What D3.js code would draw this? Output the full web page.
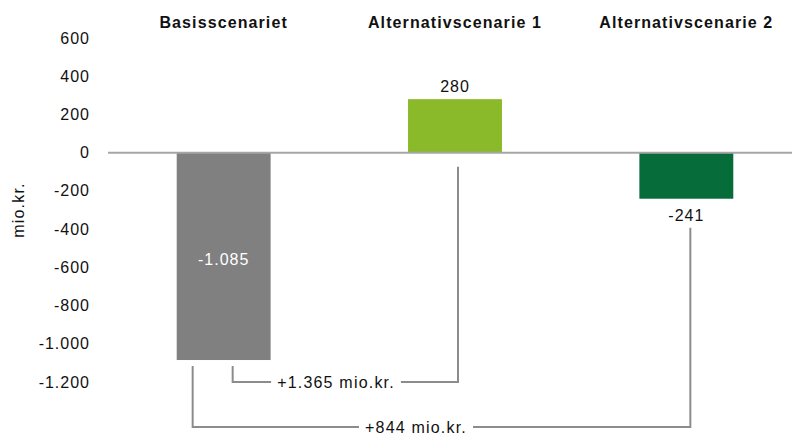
<!DOCTYPE html>
<html>
<head>
<meta charset="utf-8">
<script src="https://cdn.jsdelivr.net/npm/d3@7"></script>
<style>
  body { margin: 0; background: #fff; }
  svg text { font-family: "Liberation Sans", Arial, sans-serif; fill: #111; }
</style>
</head>
<body>
<svg></svg>
<script>
const scenarios = ["Basisscenariet", "Alternativscenarie 1", "Alternativscenarie 2"];
const values = [-1085, 280, -241];
const valueLabels = ["-1.085", "280", "-241"];
const colors = ["#808080", "#8aba29", "#066d3a"];
const yTicks = [600, 400, 200, 0, -200, -400, -600, -800, -1000, -1200];
const yTickLabels = ["600", "400", "200", "0", "-200", "-400", "-600", "-800", "-1.000", "-1.200"];
const brackets = [
    { from: 0, to: 1, label: "+1.365 mio.kr.", level: -1200 },
    { from: 0, to: 2, label: "+844 mio.kr.", level: -1435 }
];

const width = 792;
const height = 437;
const margin = { top: 38, right: -10, bottom: 55, left: 108 };

const svg = d3.select("svg")
    .attr("width", width)
    .attr("height", height);

const x = d3.scaleBand()
    .domain(scenarios)
    .range([margin.left, width - margin.right])
    .paddingInner(0.594)
    .paddingOuter(0.297);

const y = d3.scaleLinear()
    .domain([-1200, 600])
    .range([height - margin.bottom, margin.top]);

// y tick labels
svg.append("g")
    .selectAll("text")
    .data(yTicks)
    .enter().append("text")
    .attr("x", 90)
    .attr("y", d => y(d))
    .attr("dy", "0.35em")
    .attr("text-anchor", "end")
    .style("font-size", "16px")
    .style("letter-spacing", "1px")
    .text((d, i) => yTickLabels[i]);

svg.append("text")
    .attr("transform", `translate(24,${y(-300)}) rotate(-90)`)
    .attr("text-anchor", "middle")
    .style("font-size", "16px")
    .style("letter-spacing", "1.2px")
    .text("mio.kr.");

// scenario titles
svg.append("g")
    .selectAll("text")
    .data(scenarios)
    .enter().append("text")
    .attr("x", d => x(d) + x.bandwidth() / 2)
    .attr("y", 28)
    .attr("text-anchor", "middle")
    .style("font-size", "16px")
    .style("font-weight", "bold")
    .style("letter-spacing", "1.1px")
    .text(d => d);

// bars
svg.append("g")
    .selectAll("rect")
    .data(values)
    .enter().append("rect")
    .attr("x", (d, i) => x(scenarios[i]))
    .attr("y", d => y(Math.max(0, d)))
    .attr("width", x.bandwidth())
    .attr("height", d => Math.abs(y(d) - y(0)))
    .attr("fill", (d, i) => colors[i]);

// zero line
svg.append("line")
    .attr("x1", margin.left)
    .attr("x2", width)
    .attr("y1", y(0))
    .attr("y2", y(0))
    .attr("stroke", "#a6a6a6")
    .attr("stroke-width", 2);

// value labels
const cx = i => x(scenarios[i]) + x.bandwidth() / 2;
svg.append("g")
    .selectAll("text")
    .data(values)
    .enter().append("text")
    .attr("x", (d, i) => cx(i))
    .attr("y", (d, i) => i === 0 ? (y(d) + y(0)) / 2 + 3 : d > 0 ? y(d) - 7 : y(d) + 11)
    .attr("dy", (d, i) => i === 0 ? "0.35em" : d > 0 ? "0" : "0.71em")
    .attr("text-anchor", "middle")
    .style("font-size", "16px")
    .style("letter-spacing", "1px")
    .style("fill", (d, i) => i === 0 ? "#fff" : "#111")
    .text((d, i) => valueLabels[i]);

// brackets
const lineColor = "#8c8c8c";
const bg = svg.append("g");
brackets.forEach((b, k) => {
    const x1 = cx(b.from) + (k === 0 ? 9 : -31);
    const x2 = cx(b.to) + (k === 0 ? 3 : 4);
    const yl = y(b.level);
    const yTop1 = y(values[b.from]) + 6;
    const yTop2 = values[b.to] > 0 ? y(0) + 14 : y(values[b.to]) + 29;
    const lx = k === 0 ? 336 : 416;
    const t = bg.append("text")
        .attr("x", lx)
        .attr("y", yl)
        .attr("dy", "0.35em")
        .attr("text-anchor", "middle")
        .style("font-size", "16px")
        .style("letter-spacing", "1.2px")
        .text(b.label);
    const w = t.node().getComputedTextLength();
    const gap = 6;
    bg.append("path")
        .attr("d", `M${x1},${yTop1}V${yl}H${lx - w / 2 - gap}`)
        .attr("fill", "none")
        .attr("stroke", lineColor)
        .attr("stroke-width", 2);
    bg.append("path")
        .attr("d", `M${lx + w / 2 + gap},${yl}H${x2}V${yTop2}`)
        .attr("fill", "none")
        .attr("stroke", lineColor)
        .attr("stroke-width", 2);
});
</script>
</body>
</html>
